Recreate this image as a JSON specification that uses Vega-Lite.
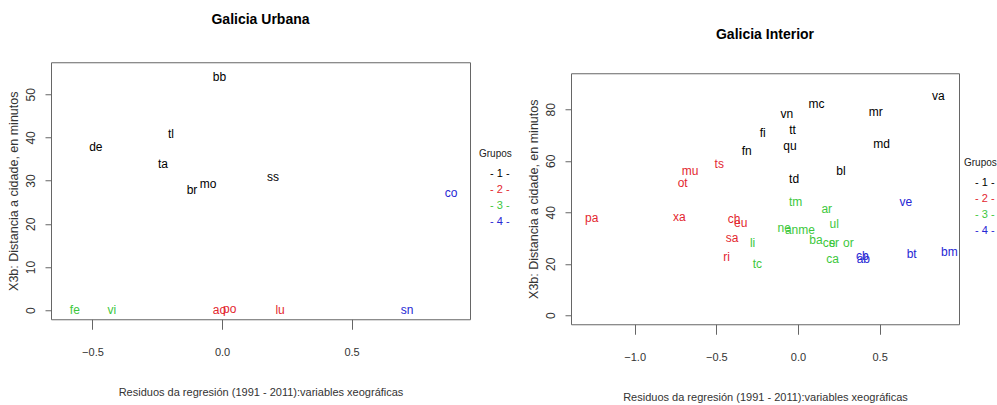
{
  "$schema": "https://vega.github.io/schema/vega-lite/v6.json",
  "background": "white",
  "padding": {"left": 6, "top": 12, "right": 0, "bottom": 0},
  "spacing": 13,
  "center": true,
  "datasets": {
    "urbana": [
      {"lab": "bb", "x": -0.01, "y": 54, "g": "1"},
      {"lab": "de", "x": -0.487, "y": 37.7, "g": "1"},
      {"lab": "tl", "x": -0.197, "y": 40.7, "g": "1"},
      {"lab": "ta", "x": -0.228, "y": 33.8, "g": "1"},
      {"lab": "br", "x": -0.116, "y": 27.8, "g": "1"},
      {"lab": "mo", "x": -0.054, "y": 29.2, "g": "1"},
      {"lab": "ss", "x": 0.197, "y": 30.8, "g": "1"},
      {"lab": "fe", "x": -0.568, "y": 0, "g": "3"},
      {"lab": "vi", "x": -0.425, "y": 0, "g": "3"},
      {"lab": "ao", "x": -0.01, "y": 0, "g": "2"},
      {"lab": "po", "x": 0.03, "y": 0.3, "g": "2"},
      {"lab": "lu", "x": 0.224, "y": 0, "g": "2"},
      {"lab": "sn", "x": 0.714, "y": 0, "g": "4"},
      {"lab": "co", "x": 0.884, "y": 27.1, "g": "4"}
    ],
    "interior": [
      {"lab": "pa", "x": -1.263, "y": 37.8, "g": "2"},
      {"lab": "xa", "x": -0.727, "y": 38.2, "g": "2"},
      {"lab": "mu", "x": -0.661, "y": 56.0, "g": "2"},
      {"lab": "ot", "x": -0.706, "y": 51.5, "g": "2"},
      {"lab": "ts", "x": -0.482, "y": 58.6, "g": "2"},
      {"lab": "ch", "x": -0.392, "y": 37.5, "g": "2"},
      {"lab": "eu", "x": -0.351, "y": 36.0, "g": "2"},
      {"lab": "sa", "x": -0.404, "y": 30.0, "g": "2"},
      {"lab": "ri", "x": -0.437, "y": 22.7, "g": "2"},
      {"lab": "li", "x": -0.278, "y": 28.1, "g": "3"},
      {"lab": "tc", "x": -0.249, "y": 19.8, "g": "3"},
      {"lab": "fn", "x": -0.314, "y": 63.8, "g": "1"},
      {"lab": "fi", "x": -0.216, "y": 70.8, "g": "1"},
      {"lab": "vn", "x": -0.069, "y": 78.3, "g": "1"},
      {"lab": "mc", "x": 0.114, "y": 82.2, "g": "1"},
      {"lab": "tt", "x": -0.033, "y": 71.8, "g": "1"},
      {"lab": "qu", "x": -0.049, "y": 65.6, "g": "1"},
      {"lab": "mr", "x": 0.476, "y": 79.0, "g": "1"},
      {"lab": "va", "x": 0.859, "y": 85.2, "g": "1"},
      {"lab": "md", "x": 0.512, "y": 66.7, "g": "1"},
      {"lab": "bl", "x": 0.263, "y": 56.0, "g": "1"},
      {"lab": "td", "x": -0.024, "y": 52.8, "g": "1"},
      {"lab": "tm", "x": -0.014, "y": 43.8, "g": "3"},
      {"lab": "ar", "x": 0.176, "y": 41.2, "g": "3"},
      {"lab": "ul", "x": 0.222, "y": 35.3, "g": "3"},
      {"lab": "ne", "x": -0.084, "y": 34.0, "g": "3"},
      {"lab": "an", "x": -0.039, "y": 33.0, "g": "3"},
      {"lab": "me", "x": 0.053, "y": 33.3, "g": "3"},
      {"lab": "ba", "x": 0.110, "y": 29.4, "g": "3"},
      {"lab": "ce", "x": 0.19, "y": 28.2, "g": "3"},
      {"lab": "sr", "x": 0.22, "y": 28.2, "g": "3"},
      {"lab": "or", "x": 0.308, "y": 28.2, "g": "3"},
      {"lab": "ca", "x": 0.212, "y": 22.0, "g": "3"},
      {"lab": "ve", "x": 0.66, "y": 44.0, "g": "4"},
      {"lab": "bt", "x": 0.696, "y": 23.6, "g": "4"},
      {"lab": "bm", "x": 0.927, "y": 24.6, "g": "4"},
      {"lab": "cb", "x": 0.394, "y": 23.0, "g": "4"},
      {"lab": "ab", "x": 0.40, "y": 21.8, "g": "4"}
    ]
  },
  "resolve": {"scale": {"color": "independent", "x": "independent", "y": "independent"}, "legend": {"color": "independent"}},
  "hconcat": [
    {
      "width": 419,
      "height": 257,
      "title": {"text": "Galicia Urbana", "offset": 35},
      "data": {"name": "urbana"},
      "mark": {"type": "text", "baseline": "middle", "align": "center"},
      "encoding": {
        "x": {"field": "x", "type": "quantitative", "scale": {"domain": [-0.66, 0.957], "nice": false, "zero": false},
              "axis": {"values": [-0.5, 0, 0.5], "format": ".1f", "title": ["Residuos da regresión (1991 - 2011):variables xeográficas", ""], "titleLineHeight": 16}},
        "y": {"field": "y", "type": "quantitative", "scale": {"domain": [-2.1, 57.4], "nice": false, "zero": false},
              "axis": {"values": [0, 10, 20, 30, 40, 50], "format": "d", "title": "X3b: Distancia a cidade, en minutos"}},
        "text": {"field": "lab"},
        "color": {"field": "g", "type": "nominal", "scale": {"domain": ["1", "2", "3", "4"], "range": ["#000000", "#E3262F", "#3CC83C", "#2626D4"]},
                  "legend": {"title": "Grupos", "orient": "none", "legendX": 428, "legendY": 87,
                             "labelExpr": "'- ' + datum.label + ' -'",
                             "encode": {"labels": {"update": {"fill": {"signal": "datum.value == '1' ? '#000000' : datum.value == '2' ? '#E3262F' : datum.value == '3' ? '#3CC83C' : '#2626D4'"}}}}}}
      }
    },
    {
      "width": 388,
      "height": 251,
      "title": {"text": "Galicia Interior", "offset": 31},
      "data": {"name": "interior"},
      "mark": {"type": "text", "baseline": "middle", "align": "center"},
      "encoding": {
        "x": {"field": "x", "type": "quantitative", "scale": {"domain": [-1.39, 0.986], "nice": false, "zero": false},
              "axis": {"values": [-1, -0.5, 0, 0.5], "format": ".1f", "title": "Residuos da regresión (1991 - 2011):variables xeográficas"}},
        "y": {"field": "y", "type": "quantitative", "scale": {"domain": [-3.5, 94], "nice": false, "zero": false},
              "axis": {"values": [0, 20, 40, 60, 80], "format": "d", "title": "X3b: Distancia a cidade, en minutos"}},
        "text": {"field": "lab"},
        "color": {"field": "g", "type": "nominal", "scale": {"domain": ["1", "2", "3", "4"], "range": ["#000000", "#E3262F", "#3CC83C", "#2626D4"]},
                  "legend": {"title": "Grupos", "orient": "none", "legendX": 393, "legendY": 85,
                             "labelExpr": "'- ' + datum.label + ' -'",
                             "encode": {"labels": {"update": {"fill": {"signal": "datum.value == '1' ? '#000000' : datum.value == '2' ? '#E3262F' : datum.value == '3' ? '#3CC83C' : '#2626D4'"}}}}}}
      }
    }
  ],
  "config": {
    "view": {"stroke": "#666666", "strokeWidth": 1},
    "text": {"font": "Liberation Sans", "fontSize": 12},
    "title": {"font": "Liberation Sans", "fontSize": 14, "fontWeight": "bold", "color": "#000000", "anchor": "middle"},
    "axis": {"grid": false, "domain": false, "tickColor": "#666666", "labelColor": "#333333", "titleColor": "#333333", "titleFontWeight": "normal"},
    "axisX": {"tickSize": 10, "labelPadding": 17, "labelFont": "Liberation Sans", "labelFontSize": 11, "titleFont": "Liberation Sans", "titleFontSize": 11, "titlePadding": 29},
    "axisY": {"tickSize": 6, "labelPadding": 8, "labelAngle": 270, "labelAlign": "center", "labelBaseline": "bottom", "labelFont": "Liberation Sans", "labelFontSize": 12, "titleFont": "Liberation Sans", "titleFontSize": 12.5, "titlePadding": 4},
    "legend": {
      "titleFont": "Liberation Sans", "titleFontSize": 10, "titleFontWeight": "normal", "titleColor": "#222222", "titlePadding": 9,
      "labelFont": "Liberation Sans", "labelFontSize": 11, "labelOffset": 0,
      "symbolOpacity": 0, "symbolSize": 30, "symbolStrokeWidth": 0, "rowPadding": 4
    }
  }
}
